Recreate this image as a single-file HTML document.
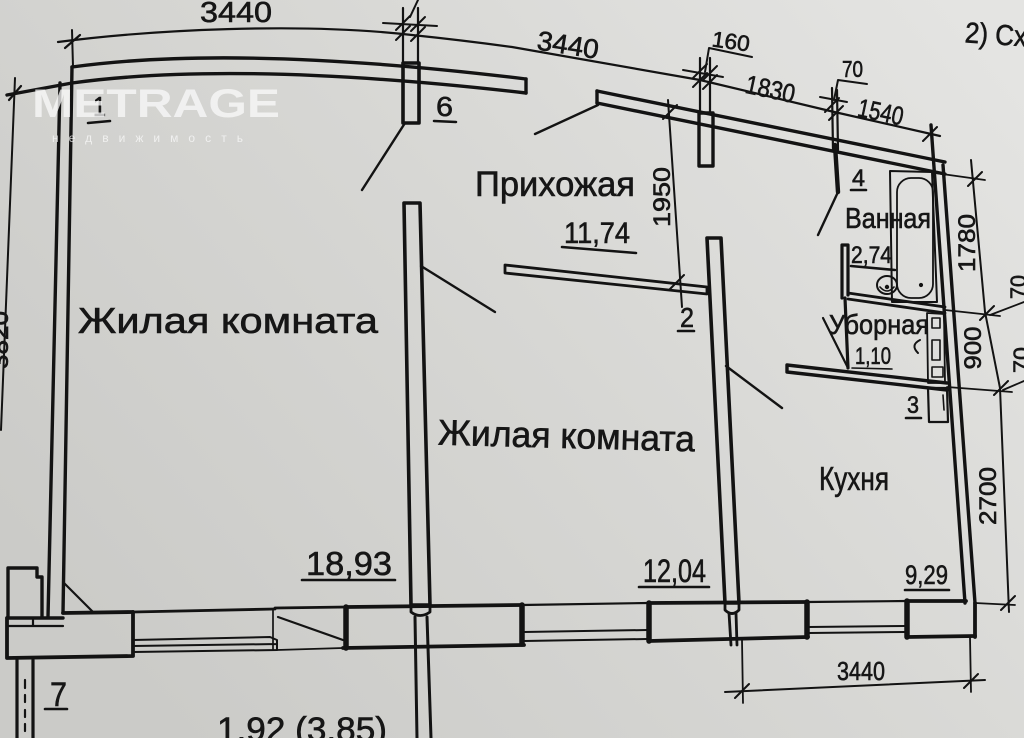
<!DOCTYPE html>
<html><head><meta charset="utf-8">
<style>
html,body{margin:0;padding:0;width:1024px;height:738px;overflow:hidden;background:#d8d8d5}
svg{display:block}
text{font-family:"Liberation Sans","DejaVu Sans",sans-serif;fill:#161616}
.t{stroke:#161616;stroke-width:0.6}
</style></head><body>
<svg width="1024" height="738" viewBox="0 0 1024 738" xmlns="http://www.w3.org/2000/svg">
<defs>
<linearGradient id="bg" x1="0" y1="0.7" x2="1" y2="0.1">
<stop offset="0" stop-color="#cbcbc8"/>
<stop offset="0.5" stop-color="#d7d7d4"/>
<stop offset="1" stop-color="#e4e4e2"/>
</linearGradient>
</defs>
<rect width="1024" height="738" fill="url(#bg)"/>

<g fill="none" stroke="#131313" stroke-linecap="round" stroke-linejoin="round">
<!-- top dimension line -->
<path d="M58,42 C150,30 300,22 412,35 C460,40 490,44 512,47 L700,80 L830,111 L940,136" stroke-width="2.2"/>
<path d="M72,30 L73,67" stroke-width="2"/>
<path d="M65,48 L80,35" stroke-width="2.2"/>
<path d="M403,8 L403,63 M418,8 L418,63" stroke-width="2.2"/>
<path d="M383,23 L437,26" stroke-width="2"/>
<path d="M396,40 L410,26 M411,41 L425,27 M396,30 L410,16 M411,31 L425,17" stroke-width="2"/>
<path d="M410,17 L418,0" stroke-width="2"/>
<!-- top-left wall -->
<path d="M72,67 Q240,44 526,79" stroke-width="3.4"/>
<path d="M7,95 L72,83 Q240,60 526,93" stroke-width="3.4"/>
<path d="M526,79 L526,93" stroke-width="3.4"/>
<path d="M9,100 L21,86" stroke-width="2.2"/>
<path d="M15,78 L1,430" stroke-width="2"/>
<!-- stub 6 -->
<path d="M403,63 L419,63 L419,123 L403,123 Z" stroke-width="3.6"/>
<path d="M405,123 L362,190" stroke-width="2.4"/>
<!-- top-right wall -->
<path d="M597,91 L945,162" stroke-width="3.4"/>
<path d="M597,103 L945,174" stroke-width="3.4"/>
<path d="M597,91 L597,103" stroke-width="3.4"/>
<path d="M598,105 L535,134" stroke-width="2.4"/>
<!-- 160 stub -->
<path d="M700,58 L700,113 M710,58 L710,113" stroke-width="2.2"/>
<path d="M683,70 L723,77" stroke-width="2"/>
<path d="M693,87 L707,73 M703,89 L717,75 M693,78 L707,64 M703,80 L717,66" stroke-width="2"/>
<path d="M705,72 L709,48 L752,57" stroke-width="2"/>
<path d="M699,113 L713,113 L713,166 L699,166 Z" stroke-width="3.4"/>
<!-- 70 ext -->
<path d="M832,88 L833,150 M837,90 L838,150" stroke-width="2.2"/>
<path d="M820,97 L847,102" stroke-width="2"/>
<path d="M825,112 L839,98 M829,120 L843,106" stroke-width="2"/>
<path d="M834,100 L838,80 L867,84" stroke-width="2"/>
<path d="M835,145 L838,192" stroke-width="4.4"/>
<path d="M838,192 L818,235" stroke-width="2.4"/>
<path d="M923,141 L937,127" stroke-width="2"/>
<!-- right wall -->
<path d="M931,125 L965,603" stroke-width="3.4"/>
<path d="M943,165 L975,603" stroke-width="3.4"/>

<!-- wall room1/room2 -->
<path d="M404,203 L420,203 L430,605 L411,605 Z" stroke-width="3.6"/>
<path d="M411,605 L411,612 Q420,619 430,612 L430,605" stroke-width="2.8"/>
<path d="M415,617 L417,738 M427,617 L431,738" stroke-width="3"/>
<path d="M421,266 L495,312" stroke-width="2.4"/>
<!-- wall room2/kitchen -->
<path d="M707,238 L721,238 L739,603 L725,603 Z" stroke-width="3.6"/>
<path d="M725,603 L725,610 Q732,617 739,610 L739,603" stroke-width="2.8"/>
<path d="M729,613 L731,645 M736,613 L737,645" stroke-width="2.8"/>
<path d="M726,366 L782,408" stroke-width="2.4"/>
<!-- hallway partition -->
<path d="M505,265 L707,287 L707,294 L505,273 Z" stroke-width="2.8"/>
<!-- 1950 dim -->
<path d="M668,100 L682,307" stroke-width="2"/>
<path d="M663,119 L677,105 M670,289 L684,275" stroke-width="2"/>

<!-- bathroom -->
<path d="M890,171 L932,172 L937,302 L892,302 Z" stroke-width="2"/>
<rect x="897" y="178" width="36" height="120" rx="14" stroke-width="1.8"/>
<circle cx="921" cy="285" r="1.6" fill="#131313"/>
<ellipse cx="887" cy="285" rx="10" ry="9" stroke-width="2"/>
<path d="M880,287 Q887,295 894,287" stroke-width="1.6"/>
<circle cx="887" cy="287" r="1.7" fill="#131313"/>
<path d="M842,245 L842,298 M848,245 L848,295 M842,245 L848,245" stroke-width="3.2"/>
<path d="M845,298 L848,368" stroke-width="3.2"/>
<path d="M848,293 L945,307 M848,299 L945,313" stroke-width="2.8"/>
<path d="M945,310 L1000,316" stroke-width="1.8"/>
<path d="M787,365 L947,383 M787,372 L947,390 M787,365 L787,372" stroke-width="3.4"/>
<path d="M947,387 L1012,392" stroke-width="1.8"/>
<path d="M823,318 L848,368" stroke-width="2.2"/>
<path d="M927,313 L944,314 L945,383 L928,383 Z" stroke-width="1.8"/>
<path d="M932,318 L940,318 L940,328 L932,328 Z M932,340 L940,340 L940,360 L932,360 Z M932,367 L943,367 L943,377 L932,377 Z" stroke-width="1.6"/>
<path d="M928,388 L947,388 L948,422 L929,422 Z" stroke-width="2.2"/>
<path d="M943,395 L944,410" stroke-width="1.6"/>
<path d="M920,340 Q910,345 918,353" stroke-width="2"/>

<!-- right dims -->
<path d="M935,173 L985,180" stroke-width="1.8"/>
<path d="M971,160 L985,312 L1000,388 L1009,612" stroke-width="2"/>
<path d="M968,186 L982,172 M980,320 L994,306 M994,395 L1008,381 M1001,610 L1015,596" stroke-width="2"/>
<path d="M975,603 L1015,605" stroke-width="1.8"/>
<path d="M990,315 L1024,302 M1003,390 L1024,381" stroke-width="1.8"/>

<!-- left room walls -->
<path d="M60,83 L48,617" stroke-width="3.4"/>
<path d="M72,67 L63,613" stroke-width="3.4"/>
<!-- bottom left block -->
<path d="M8,617 L8,568 L37,568 L37,577 L42,577 L42,617" stroke-width="3.4"/>
<path d="M7,618 L63,618" stroke-width="3.4"/>
<path d="M9,626 L63,626 M33,618 L33,626" stroke-width="2.2"/>
<path d="M7,618 L7,658 L133,656 L133,612" stroke-width="3.8"/>
<path d="M63,613 L133,612" stroke-width="3.8"/>
<path d="M63,582 L93,612" stroke-width="2.2"/>
<!-- window 1 -->
<path d="M133,612 L275,609" stroke-width="2.8"/>
<path d="M133,640 L270,637 M133,646 L277,644 M133,652 L277,650 M270,637 L277,640 L277,650" stroke-width="2"/>
<!-- balcony door -->
<path d="M273,609 L273,650" stroke-width="1.7"/>
<path d="M275,608 L347,607" stroke-width="2.8"/>
<path d="M278,617 L343,640" stroke-width="2.2"/>
<path d="M277,650 L343,648" stroke-width="1.7"/>
<path d="M346,607 L346,648" stroke-width="5.5"/>
<path d="M343,648 L524,645" stroke-width="3.8"/>
<path d="M347,607 L522,605" stroke-width="3.8"/>
<!-- window 2 -->
<path d="M522,605 L522,644" stroke-width="5.5"/>
<path d="M522,605 L648,603" stroke-width="2.2"/>
<path d="M524,632 L647,630 M524,641 L647,639" stroke-width="2"/>
<path d="M649,603 L649,641" stroke-width="5.5"/>
<path d="M649,641 L808,637" stroke-width="3.8"/>
<path d="M649,603 L806,602" stroke-width="3.8"/>
<!-- window 3 -->
<path d="M807,602 L807,637" stroke-width="5.5"/>
<path d="M807,602 L907,601" stroke-width="2.2"/>
<path d="M809,627 L905,626 M809,633 L905,632" stroke-width="2"/>
<path d="M907,601 L907,637" stroke-width="5.5"/>
<path d="M907,637 L975,636" stroke-width="3.8"/>
<path d="M907,601 L966,601" stroke-width="3.8"/>
<path d="M975,603 L975,637" stroke-width="3.8"/>
<!-- bottom dim -->
<path d="M742,640 L743,703 M970,637 L971,692" stroke-width="1.8"/>
<path d="M725,692 L985,680" stroke-width="2"/>
<path d="M735,698 L749,684 M964,688 L978,674" stroke-width="2"/>
<!-- left balcony -->
<path d="M17,660 L17,738 M33,660 L33,738" stroke-width="3.2"/>
<path d="M25,680 L25,688 M25,695 L25,702 M25,710 L25,717 M25,724 L25,731" stroke-width="2.2"/>

<!-- underlines -->
<path d="M88,123 L110,121 M434,121 L456,122 M562,247 L636,253 M678,331 L694,331 M851,190 L866,190 M851,266 L895,270 M906,418 L921,418 M302,580 L395,580 M639,587 L709,587 M905,590 L949,590 M45,709 L67,709" stroke-width="2.6"/>
<path d="M852,368 L892,369" stroke-width="1.6"/>
</g>

<!-- texts -->
<text class="t" x="200" y="22" font-size="29" textLength="72" lengthAdjust="spacingAndGlyphs">3440</text>
<text class="t" transform="rotate(9 567 45)" x="537" y="54" font-size="27" textLength="62" lengthAdjust="spacingAndGlyphs">3440</text>
<text class="t" transform="rotate(8 731 41)" x="712" y="49" font-size="22" textLength="38" lengthAdjust="spacingAndGlyphs">160</text>
<text class="t" transform="rotate(12 771 86)" x="746" y="98" font-size="26" textLength="50" lengthAdjust="spacingAndGlyphs">1830</text>
<text class="t" x="842" y="77" font-size="23" textLength="21" lengthAdjust="spacingAndGlyphs">70</text>
<text class="t" transform="rotate(12 881 111)" x="858" y="121" font-size="26" textLength="46" lengthAdjust="spacingAndGlyphs">1540</text>
<text class="t" transform="rotate(4 990 35)" x="965" y="44" font-size="29" textLength="62" lengthAdjust="spacingAndGlyphs">2) Сх</text>

<text class="t" x="93" y="116" font-size="28" textLength="13" lengthAdjust="spacingAndGlyphs">1</text>
<text class="t" x="436" y="116" font-size="28" textLength="17" lengthAdjust="spacingAndGlyphs">6</text>
<text class="t" x="78" y="333" font-size="36" textLength="300" lengthAdjust="spacingAndGlyphs">Жилая комната</text>
<text class="t" x="475" y="196" font-size="35" textLength="160" lengthAdjust="spacingAndGlyphs">Прихожая</text>
<text class="t" x="564" y="243" font-size="30" textLength="66" lengthAdjust="spacingAndGlyphs">11,74</text>
<text class="t" transform="translate(670 197) rotate(-90)" x="0" y="0" text-anchor="middle" font-size="24" textLength="60" lengthAdjust="spacingAndGlyphs">1950</text>
<text class="t" x="680" y="327" font-size="28" textLength="14" lengthAdjust="spacingAndGlyphs">2</text>
<text class="t" x="852" y="186" font-size="24" textLength="13" lengthAdjust="spacingAndGlyphs">4</text>
<text class="t" x="845" y="228" font-size="29" textLength="86" lengthAdjust="spacingAndGlyphs">Ванная</text>
<text class="t" x="851" y="263" font-size="24" textLength="41" lengthAdjust="spacingAndGlyphs">2,74</text>
<text class="t" x="829" y="334" font-size="28" textLength="100" lengthAdjust="spacingAndGlyphs">Уборная</text>
<text class="t" x="855" y="364" font-size="24" textLength="36" lengthAdjust="spacingAndGlyphs">1,10</text>
<text class="t" transform="translate(975 243) rotate(-90)" x="0" y="0" text-anchor="middle" font-size="24" textLength="58" lengthAdjust="spacingAndGlyphs">1780</text>
<text class="t" transform="translate(981 348) rotate(-90)" x="0" y="0" text-anchor="middle" font-size="24" textLength="43" lengthAdjust="spacingAndGlyphs">900</text>
<text class="t" transform="translate(996 496) rotate(-90)" x="0" y="0" text-anchor="middle" font-size="24" textLength="58" lengthAdjust="spacingAndGlyphs">2700</text>
<text class="t" transform="translate(1026 287) rotate(-90)" x="0" y="0" text-anchor="middle" font-size="22" textLength="24" lengthAdjust="spacingAndGlyphs">70</text>
<text class="t" transform="translate(1029 360) rotate(-90)" x="0" y="0" text-anchor="middle" font-size="22" textLength="26" lengthAdjust="spacingAndGlyphs">70</text>
<text class="t" transform="translate(8 340) rotate(-90)" x="0" y="0" text-anchor="middle" font-size="24" textLength="58" lengthAdjust="spacingAndGlyphs">3820</text>
<text class="t" transform="rotate(1.5 566 437)" x="438" y="448" font-size="36" textLength="257" lengthAdjust="spacingAndGlyphs">Жилая комната</text>
<text class="t" x="907" y="413" font-size="24" textLength="12" lengthAdjust="spacingAndGlyphs">3</text>
<text class="t" x="819" y="490" font-size="33" textLength="70" lengthAdjust="spacingAndGlyphs">Кухня</text>
<text class="t" x="306" y="575" font-size="33" textLength="86" lengthAdjust="spacingAndGlyphs">18,93</text>
<text class="t" x="643" y="582" font-size="32" textLength="63" lengthAdjust="spacingAndGlyphs">12,04</text>
<text class="t" x="905" y="584" font-size="27" textLength="43" lengthAdjust="spacingAndGlyphs">9,29</text>
<text class="t" x="837" y="680" font-size="26" textLength="48" lengthAdjust="spacingAndGlyphs">3440</text>
<text class="t" x="50" y="706" font-size="34" textLength="17" lengthAdjust="spacingAndGlyphs">7</text>
<text class="t" x="217" y="741" font-size="34" textLength="170" lengthAdjust="spacingAndGlyphs">1,92 (3,85)</text>

<!-- watermark -->
<text x="32" y="117" font-size="40" font-weight="bold" textLength="248" lengthAdjust="spacingAndGlyphs" style="fill:rgba(250,250,250,0.75)">METRAGE</text>
<text x="52" y="142" font-size="12" textLength="191" lengthAdjust="spacing" style="fill:rgba(250,250,250,0.75)">недвижимость</text>
</svg>
</body></html>
